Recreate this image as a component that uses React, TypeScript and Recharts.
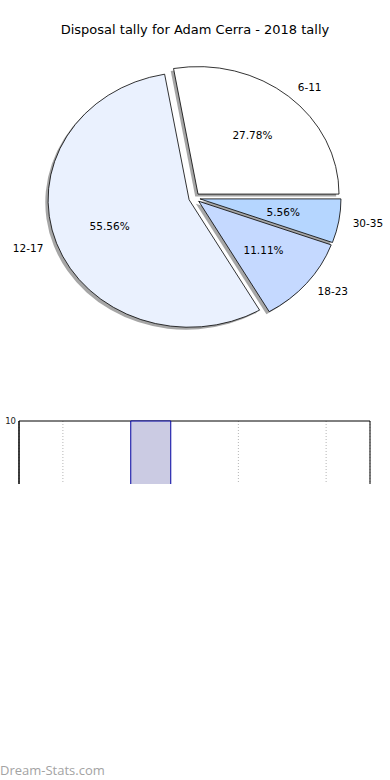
import React from "react";
import { PieChart, Pie, Cell, BarChart, Bar, XAxis, YAxis, CartesianGrid, ReferenceArea } from "recharts";

const BINS = ["6-11", "12-17", "18-23", "30-35"];
const COUNTS = [5, 10, 2, 1];
const COLORS = ["#ffffff", "#eaf1fe", "#c5d9ff", "#b5d6ff"];

// second (cut-off) chart
const BAR_CATS = ["a", "b", "c", "d"];
const BAR_VALUES = [0, 10, 0, 0];
const BAR_TICKS = [0, 10];

const pieData = BINS.map((name, i) => ({ name, value: COUNTS[i], color: COLORS[i] }));
const barData = BAR_CATS.map((name, i) => ({ name, value: BAR_VALUES[i] }));

const RAD = Math.PI / 180;
const RX = 141;
const RY = 127.5;
const EXPLODE = 0.04;
const FONT = "'DejaVu Sans', sans-serif";

function center(cx: number, cy: number, mid: number) {
  return [cx + EXPLODE * RX * Math.cos(mid * RAD), cy - EXPLODE * RY * Math.sin(mid * RAD)];
}

function wedgePath(cx: number, cy: number, a0: number, a1: number) {
  const x0 = cx + RX * Math.cos(a0 * RAD);
  const y0 = cy - RY * Math.sin(a0 * RAD);
  const x1 = cx + RX * Math.cos(a1 * RAD);
  const y1 = cy - RY * Math.sin(a1 * RAD);
  const large = Math.abs(a1 - a0) > 180 ? 1 : 0;
  return `M${cx},${cy} L${x0},${y0} A${RX},${RY} 0 ${large} 0 ${x1},${y1} Z`;
}

function Wedge(props: any) {
  const { cx, cy, startAngle, endAngle } = props;
  const mid = (startAngle + endAngle) / 2;
  const [x, y] = center(cx, cy, mid);
  return <path d={wedgePath(x, y, startAngle, endAngle)} fill={props.fill} stroke="#000" strokeWidth={0.8} />;
}

function ShadowWedge(props: any) {
  const { cx, cy, startAngle, endAngle } = props;
  const mid = (startAngle + endAngle) / 2;
  const [x, y] = center(cx, cy, mid);
  return <path d={wedgePath(x - 2.8, y + 2.5, startAngle, endAngle)} fill="#4d4d4d" fillOpacity={0.5} stroke="none" />;
}

function renderLabel(props: any) {
  const { cx, cy, midAngle, percent, name } = props;
  const [x, y] = center(cx, cy, midAngle);
  const c = Math.cos(midAngle * RAD);
  const s = Math.sin(midAngle * RAD);
  const lx = x + 1.1 * RX * c;
  const ly = y - 1.1 * RY * s;
  const px = x + 0.6 * RX * c;
  const py = y - 0.6 * RY * s;
  return (
    <g>
      <text x={lx} y={ly} textAnchor={c > 0 ? "start" : "end"} dominantBaseline="central" fontSize={10.5} fontFamily={FONT} fill="#000">
        {name}
      </text>
      <text x={px} y={py} textAnchor="middle" dominantBaseline="central" fontSize={10.5} fontFamily={FONT} fill="#000">
        {(percent * 100).toFixed(2)}%
      </text>
    </g>
  );
}

// category labels of the lower chart sit below the visible crop
const NoTick = () => <g />;

export default function App() {
  return (
    <div style={{ position: "absolute", left: 0, top: 0, width: 390, height: 780, background: "#fff", overflow: "hidden" }}>
      <div style={{ position: "absolute", top: 22, left: 0, width: 390, textAlign: "center", fontFamily: FONT, fontSize: 13, color: "#000" }}>
        Disposal tally for Adam Cerra - 2018 tally
      </div>
      <div style={{ position: "absolute", top: 0, left: 0 }}>
        <PieChart width={390} height={400} margin={{ top: 0, right: 0, bottom: 0, left: 0 }}>
          <Pie
            data={pieData}
            dataKey="value"
            nameKey="name"
            cx={194.4}
            cy={198}
            outerRadius={RX}
            startAngle={0}
            endAngle={360}
            isAnimationActive={false}
            shape={ShadowWedge}
            inactiveShape={ShadowWedge}
            activeShape={ShadowWedge}
          >
            {pieData.map((d, i) => (
              <Cell key={i} fill={d.color} />
            ))}
          </Pie>
          <Pie
            data={pieData}
            dataKey="value"
            nameKey="name"
            cx={194.4}
            cy={198}
            outerRadius={RX}
            startAngle={0}
            endAngle={360}
            isAnimationActive={false}
            shape={Wedge}
            inactiveShape={Wedge}
            activeShape={Wedge}
            label={renderLabel}
            labelLine={false}
          >
            {pieData.map((d, i) => (
              <Cell key={i} fill={d.color} />
            ))}
          </Pie>
        </PieChart>
      </div>
      <div style={{ position: "absolute", top: 410, left: 0, width: 390, height: 74, overflow: "hidden" }}>
        <BarChart width={390} height={108} data={barData} margin={{ top: 11, right: 20, left: 0, bottom: 0 }} barCategoryGap={0}>
          <CartesianGrid horizontal={false} stroke="#b5b5b5" strokeDasharray="1 2" />
          <XAxis dataKey="name" height={30} tickLine={false} axisLine={{ stroke: "#000" }} tick={NoTick} />
          <YAxis
            domain={[0, 10]}
            ticks={BAR_TICKS}
            width={19}
            tickLine={false}
            tickSize={0}
            axisLine={{ stroke: "#000" }}
            tick={{ fontSize: 8.5, fill: "#222", fontFamily: FONT }}
            tickMargin={3}
          />
          <Bar dataKey="value" fill="#cbcbe3" stroke="#0000a0" strokeWidth={1} barSize={40} isAnimationActive={false} />
          <ReferenceArea y1={0} y2={10} fill="none" stroke="#000" strokeWidth={1} ifOverflow="visible" />
        </BarChart>
      </div>
      <div style={{ position: "absolute", left: 0, top: 761, fontFamily: "'Open Sans', sans-serif", fontSize: 13, color: "#a3a3a3" }}>
        Dream-Stats.com
      </div>
    </div>
  );
}
